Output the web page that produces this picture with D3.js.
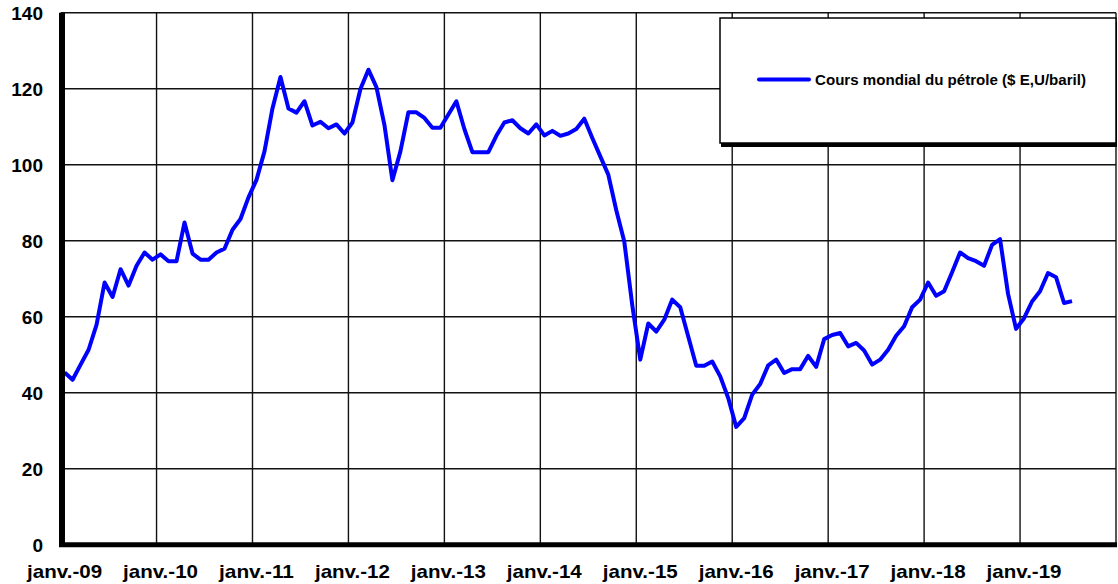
<!DOCTYPE html>
<html lang="fr">
<head>
  <meta charset="UTF-8">
  <title>Cours mondial du pétrole</title>
  <script src="https://d3js.org/d3.v7.min.js"></script>
  <style>
    body {
      margin: 0;
      background: #fff;
      font-family: 'Liberation Sans', Arial, sans-serif;
    }
    .grid line {
      stroke: #111;
      stroke-width: 1.4;
    }
    .tick text {
      font-weight: bold;
      font-size: 19px;
      fill: #000;
    }
    .price-line {
      fill: none;
      stroke: #0000ff;
      stroke-width: 4;
      stroke-linejoin: round;
    }
  </style>
</head>
<body>
  <svg width="1118" height="584"></svg>
  <script>
    // monthly categories, janv.-09 to déc.-19
    const years = [2009, 2010, 2011, 2012, 2013, 2014, 2015, 2016, 2017, 2018, 2019];
    const tickLabels = ["janv.-09", "janv.-10", "janv.-11", "janv.-12", "janv.-13", "janv.-14",
                        "janv.-15", "janv.-16", "janv.-17", "janv.-18", "janv.-19"];
    const yTicks = [0, 20, 40, 60, 80, 100, 120, 140];

    // Cours mondial du pétrole ($ E,U/baril), one value per month from janv.-09
    const prices = [
      45.3, 43.4, 47.4, 51.3, 57.9, 69.0, 65.2, 72.5, 68.2, 73.4, 76.9, 75.0,
      76.4, 74.6, 74.6, 84.8, 76.6, 75.0, 75.0, 76.9, 77.9, 82.9, 85.7, 91.4,
      96.0, 103.5, 114.8, 123.1, 114.8, 113.7, 116.7, 110.3, 111.3, 109.6, 110.6, 108.2,
      111.1, 119.9, 125.0, 120.4, 110.5, 95.9, 103.5, 113.8, 113.8, 112.3, 109.7, 109.7,
      113.2, 116.7, 109.4, 103.3, 103.3, 103.3, 107.6, 111.1, 111.7, 109.6, 108.2, 110.6,
      107.7, 108.9, 107.6, 108.2, 109.4, 112.1, 107.0, 102.2, 97.4, 88.0, 79.8, 63.0,
      48.7, 58.2, 56.1, 59.2, 64.5, 62.5, 54.8, 47.1, 47.1, 48.2, 44.3, 38.6,
      31.0, 33.3, 39.5, 42.3, 47.2, 48.7, 45.2, 46.2, 46.2, 49.7, 46.8, 54.1,
      55.2, 55.7, 52.2, 53.1, 51.1, 47.4, 48.7, 51.3, 55.0, 57.5, 62.5, 64.5,
      69.0, 65.5, 66.7, 71.7, 76.9, 75.4, 74.6, 73.4, 78.9, 80.4, 66.0, 56.8,
      59.6, 64.0, 66.7, 71.5, 70.4, 63.6, 64.1
    ];
    const seriesName = "Cours mondial du pétrole ($ E,U/baril)";

    const months = d3.range(years.length * 12);

    const svg = d3.select("svg");
    const plotLeft = 60.6, plotRight = 1116, plotTop = 12.7, plotBottom = 544.7;

    const x = d3.scaleBand().domain(months).range([plotLeft, plotRight]);
    const y = d3.scaleLinear().domain([0, 140]).range([plotBottom, plotTop]);
    const cx = i => x(i) + x.bandwidth() / 2;

    // horizontal gridlines
    svg.append("g")
      .attr("class", "grid")
      .selectAll("line")
      .data(yTicks)
      .join("line")
      .attr("x1", plotLeft).attr("x2", plotRight)
      .attr("y1", d => y(d)).attr("y2", d => y(d));

    // vertical gridlines at each january + right border
    const janIdx = years.map((yr, k) => k * 12);
    svg.append("g")
      .attr("class", "grid")
      .selectAll("line")
      .data(janIdx.slice(1).map(i => x(i)).concat([plotRight]))
      .join("line")
      .attr("x1", d => d).attr("x2", d => d)
      .attr("y1", plotTop).attr("y2", plotBottom);

    // y axis labels
    svg.append("g")
      .attr("transform", "translate(43,0)")
      .call(d3.axisLeft(y).tickValues(yTicks).tickSize(0).tickPadding(0))
      .call(g => g.select(".domain").remove())
      .selectAll("text")
      .attr("dy", "0.36em");

    // x axis labels, centered on the january category
    svg.append("g")
      .selectAll("text")
      .data(janIdx)
      .join("text")
      .attr("x", d => cx(d))
      .attr("y", 578)
      .attr("text-anchor", "middle")
      .style("font-weight", "bold")
      .style("font-size", "19px")
      .attr("textLength", 75)
      .attr("lengthAdjust", "spacingAndGlyphs")
      .text((d, k) => tickLabels[k]);

    // price line
    const line = d3.line()
      .x((d, i) => cx(i))
      .y(d => y(d));

    svg.append("path")
      .datum(prices)
      .attr("class", "price-line")
      .attr("d", line);

    // thick axes
    svg.append("line")
      .attr("x1", 62).attr("x2", 62)
      .attr("y1", plotTop).attr("y2", plotBottom + 2)
      .attr("stroke", "#000").attr("stroke-width", 6);
    svg.append("line")
      .attr("x1", 59).attr("x2", plotRight + 1)
      .attr("y1", plotBottom).attr("y2", plotBottom)
      .attr("stroke", "#000").attr("stroke-width", 5);

    // legend
    const legend = svg.append("g");
    legend.append("rect")
      .attr("x", 721).attr("y", 22)
      .attr("width", 396).attr("height", 125)
      .attr("fill", "#000");
    legend.append("rect")
      .attr("x", 720).attr("y", 18)
      .attr("width", 396).attr("height", 125)
      .attr("fill", "#fff")
      .attr("stroke", "#000")
      .attr("stroke-width", 1.5);
    legend.append("line")
      .attr("x1", 759).attr("x2", 809)
      .attr("y1", 79.5).attr("y2", 79.5)
      .attr("stroke", "#0000ff").attr("stroke-width", 4)
      .attr("stroke-linecap", "round");
    legend.append("text")
      .attr("x", 815).attr("y", 85)
      .style("font-weight", "bold")
      .style("font-size", "15px")
      .attr("textLength", 271)
      .attr("lengthAdjust", "spacingAndGlyphs")
      .text(seriesName);
  </script>
</body>
</html>
